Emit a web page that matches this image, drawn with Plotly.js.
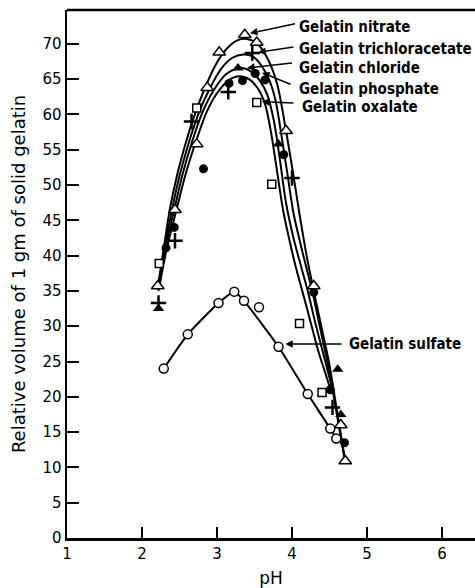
<!DOCTYPE html>
<html><head><meta charset="utf-8">
<script src="https://cdn.plot.ly/plotly-3.0.1.min.js"></script>
<style>html,body{margin:0;padding:0;background:#fff}</style>
</head><body><div id="chart" style="width:475px;height:588px"></div>
<script>
// ---- measured points ----
const nitrateX = [2.21, 2.44, 2.73, 2.87, 3.03, 3.37, 3.53, 3.92, 4.29, 4.65, 4.71];
const nitrateY = [35.7, 46.5, 55.8, 63.8, 68.8, 71.3, 70.2, 57.7, 35.7, 16.0, 10.9];
const trichlorX = [2.22, 2.44, 2.66, 3.15, 3.47, 4.00, 4.54];
const trichlorY = [33.3, 42.1, 59.0, 63.2, 68.7, 51.0, 18.5];
const chlorideX = [2.22, 3.28, 3.82, 4.61, 4.65];
const chlorideY = [32.5, 66.6, 55.8, 23.9, 17.5];
const phosphateX = [2.32, 2.43, 2.82, 3.16, 3.34, 3.51, 3.64, 3.89, 4.29, 4.51, 4.70];
const phosphateY = [41.1, 44.0, 52.3, 64.4, 64.8, 65.8, 64.9, 54.3, 34.8, 21.0, 13.5];
const oxalateX = [2.23, 2.73, 3.53, 3.73, 4.10, 4.40];
const oxalateY = [38.9, 60.9, 61.7, 50.1, 30.4, 20.6];
const sulfateX = [2.29, 2.61, 3.02, 3.23, 3.36, 3.56, 3.82, 4.21, 4.51, 4.59];
const sulfateY = [24.0, 28.85, 33.3, 34.9, 33.6, 32.7, 27.1, 20.4, 15.5, 14.1];

// ---- drawn curves ----
const curveNitrateX = [2.21,2.29,2.37,2.47,2.59,2.71,2.83,2.97,3.12,3.27,3.40,3.53,3.66,3.80,3.92,4.02,4.10,4.20,4.29,4.40,4.50,4.60,4.71];
const curveNitrateY = [35.5,41.0,46.5,51.5,56.2,60.2,63.5,66.8,69.2,70.5,70.7,70.1,68.2,64.4,57.7,51.3,45.9,39.7,35.0,29.5,24.5,18.0,10.9];
const curveTrichlorX = [2.22,2.30,2.40,2.50,2.63,2.76,2.90,3.05,3.20,3.35,3.48,3.60,3.70,3.78,3.86,3.94,4.02,4.14,4.27,4.38,4.48,4.59,4.70];
const curveTrichlorY = [35.0,41.0,46.5,51.3,56.2,60.3,63.6,66.4,68.0,68.5,68.2,66.8,64.8,62.0,57.0,51.5,46.0,40.5,35.0,29.5,24.5,18.0,11.2];
const curveChlorideX = [2.22,2.31,2.43,2.54,2.67,2.81,2.96,3.12,3.30,3.45,3.57,3.67,3.76,3.84,3.92,4.02,4.12,4.21,4.31,4.42,4.48,4.53];
const curveChlorideY = [35.5,41.0,46.5,51.5,56.2,60.4,63.5,65.7,66.6,66.1,64.8,62.8,59.0,53.5,47.5,42.5,38.5,35.0,30.5,26.0,23.5,21.5];
const curvePhosphateX = [2.23,2.33,2.46,2.58,2.72,2.86,3.00,3.15,3.30,3.44,3.55,3.64,3.72,3.80,3.88,3.97,4.06,4.15,4.25,4.35,4.44,4.50];
const curvePhosphateY = [35.5,41.0,46.5,51.5,56.2,60.3,63.0,64.8,65.4,64.9,63.6,61.5,57.5,52.0,46.5,42.0,38.0,34.5,30.5,26.5,23.5,21.5];
const curveSulfateX = [2.29,2.61,3.02,3.23,3.36,3.82,4.21,4.51,4.59];
const curveSulfateY = [24.0,28.85,33.3,34.9,33.6,27.1,20.4,15.5,14.1];

// ---- labels ----
const labels = ["Gelatin nitrate","Gelatin trichloracetate","Gelatin chloride","Gelatin phosphate","Gelatin oxalate","Gelatin sulfate"];
const labelX = [4.067, 4.067, 4.067, 4.067, 4.10, 4.733];
const labelY = [72.4, 69.3, 66.6, 63.6, 61.1, 27.5];
const arrowTailX = [4.06, 4.04, 4.02, 4.00, 4.04, 4.68];
const arrowTailY = [72.9, 69.6, 67.3, 64.2, 61.6, 27.5];
const arrowTipX = [3.44, 3.55, 3.40, 3.60, 3.60, 3.91];
const arrowTipY = [71.5, 68.8, 66.6, 65.9, 61.8, 27.5];

const yTicks = [0,5,10,15,20,25,30,35,40,45,50,55,60,65,70];
const xTicks = [1,2,3,4,5,6];

const lineStyle = {color:'#000', width:2, shape:'spline', smoothing:0.8};
function curve(x,y){return {x:x,y:y,mode:'lines',line:lineStyle,hoverinfo:'skip',showlegend:false};}
function pts(x,y,marker){return {x:x,y:y,mode:'markers',marker:marker,showlegend:false};}

const traces = [
  curve(curveNitrateX,curveNitrateY),
  curve(curveTrichlorX,curveTrichlorY),
  curve(curveChlorideX,curveChlorideY),
  curve(curvePhosphateX,curvePhosphateY),
  {x:curveSulfateX,y:curveSulfateY,mode:'lines',line:{color:'#000',width:2,shape:'spline',smoothing:0.5},showlegend:false},
  pts(oxalateX,oxalateY,{symbol:'square',size:8,color:'#fff',line:{color:'#000',width:1.5}}),
  pts(phosphateX,phosphateY,{symbol:'circle',size:9,color:'#000'}),
  pts(chlorideX,chlorideY,{symbol:'triangle-up',size:10,color:'#000'}),
  pts(trichlorX,trichlorY,{symbol:'cross-thin',size:11,color:'#000',line:{color:'#000',width:2.5}}),
  pts(nitrateX,nitrateY,{symbol:'triangle-up',size:11,color:'#fff',line:{color:'#000',width:1.5}}),
  pts(sulfateX,sulfateY,{symbol:'circle',size:9,color:'#fff',line:{color:'#000',width:1.5}})
];

const annotations = [];
for (let i=0;i<labels.length;i++){
  annotations.push({x:labelX[i],y:labelY[i],xref:'x',yref:'y',text:labels[i],showarrow:false,xanchor:'left',yanchor:'middle',
    font:{family:'"Liberation Sans Narrow","DejaVu Sans Condensed",Arial',size:15,color:'#000',weight:'bold'}});
  annotations.push({x:arrowTipX[i],y:arrowTipY[i],ax:arrowTailX[i],ay:arrowTailY[i],axref:'x',ayref:'y',xref:'x',yref:'y',
    text:'',showarrow:true,arrowhead:2,arrowsize:1,arrowwidth:1.5,arrowcolor:'#000',standoff:0,startstandoff:0});
}

const layout = {
  width:475, height:588,
  margin:{l:67,r:0,t:10,b:50},
  paper_bgcolor:'#fff', plot_bgcolor:'#fff',
  font:{family:'"DejaVu Sans",Arial',color:'#000'},
  xaxis:{range:[1,6.44],tickvals:xTicks,ticktext:xTicks.map(String),ticks:'inside',ticklen:11,tickwidth:2,tickcolor:'#000',
    showline:true,linewidth:2.5,linecolor:'#000',showgrid:false,zeroline:false,tickfont:{size:15},
    title:{text:'pH',font:{size:17},standoff:14}},
  yaxis:{range:[0,74.8],tickvals:yTicks,ticktext:yTicks.map(String),ticks:'inside',ticklen:12,tickwidth:2,tickcolor:'#000',
    showline:true,linewidth:2.5,linecolor:'#000',showgrid:false,zeroline:false,tickfont:{size:15},
    title:{text:'Relative volume of 1 gm of solid gelatin',font:{size:18},standoff:12}},
  shapes:[{type:'line',xref:'paper',yref:'paper',x0:0,x1:1,y0:1,y1:1,line:{color:'#000',width:2.5}}],
  annotations: annotations
};
Plotly.newPlot('chart',traces,layout,{staticPlot:true});
</script></body></html>
